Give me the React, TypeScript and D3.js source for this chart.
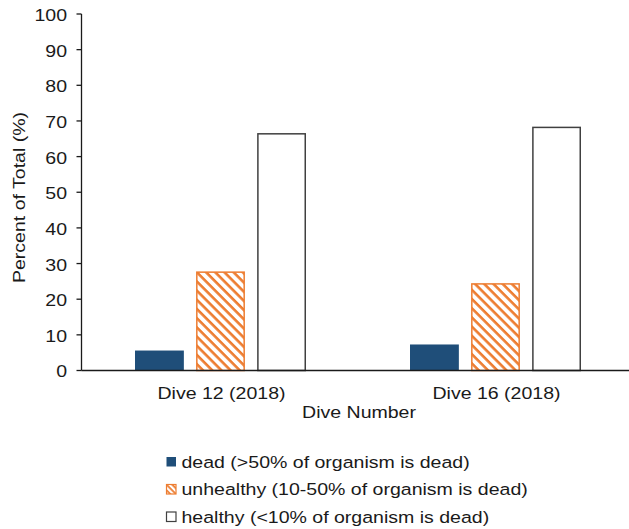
import React from "react";
import * as d3 from "d3";

const categories = ["Dive 12 (2018)", "Dive 16 (2018)"];
const seriesNames = [
  "dead (>50% of organism is dead)",
  "unhealthy (10-50% of organism is dead)",
  "healthy (<10% of organism is dead)",
];
const deadValues = [5.6, 7.3];
const unhealthyValues = [27.8, 24.5];
const healthyValues = [66.6, 68.4];
const yTicks = [0, 10, 20, 30, 40, 50, 60, 70, 80, 90, 100];

const W = 629;
const H = 529;
const FONT = "'Liberation Sans', Arial, sans-serif";
const TEXT = "#1a1a1a";
const FS = 17;
const SX = 1.15;

function T({ x, y, anchor = "start", rotate = 0, children, dy = "0.35em" }: any) {
  return (
    <g transform={`translate(${x},${y}) rotate(${rotate}) scale(${SX},1)`}>
      <text x={0} y={0} dy={dy} textAnchor={anchor} fontFamily={FONT} fontSize={FS} fill={TEXT}>
        {children}
      </text>
    </g>
  );
}

export default function App() {
  const left = 81.5;
  const y = d3.scaleLinear().domain([0, 100]).range([370.5, 14]);
  const x0 = d3.scaleBand().domain(categories).range([83, 633]).paddingInner(0).paddingOuter(0);
  const x1 = d3.scaleBand().domain(["dead", "unhealthy", "healthy"]).range([0, 171]).paddingInner(0.2).paddingOuter(0);
  const series = [
    { key: "dead", values: deadValues, fill: "#1F4E79", stroke: "none" },
    { key: "unhealthy", values: unhealthyValues, fill: "url(#hatch)", stroke: "#ED7D31" },
    { key: "healthy", values: healthyValues, fill: "#ffffff", stroke: "#404040" },
  ];
  const legendFills = ["#1F4E79", "url(#hatchSmall)", "#ffffff"];
  const legendStrokes = ["none", "#ED7D31", "#404040"];

  return (
    <svg width={W} height={H} style={{ position: "absolute", left: 0, top: 0, background: "#fff" }}>
      <defs>
        <pattern id="hatch" patternUnits="userSpaceOnUse" width="6.5" height="6.5" patternTransform="rotate(45)">
          <rect width="6.5" height="6.5" fill="#fff" />
          <rect x="0" y="0" width="6.5" height="2.6" fill="#ED7D31" />
        </pattern>
        <pattern id="hatchSmall" patternUnits="userSpaceOnUse" width="4" height="4" patternTransform="rotate(45)">
          <rect width="4" height="4" fill="#fff" />
          <rect x="0" y="0" width="4" height="1.8" fill="#ED7D31" />
        </pattern>
      </defs>
      {categories.map((c, ci) => {
        const gx = (x0(c) as number) + x0.bandwidth() / 2 - 171 / 2;
        return series.map((s) => {
          const v = s.values[ci];
          const bx = gx + (x1(s.key) as number);
          const inset = s.stroke === "none" ? 0 : 0.75;
          return (
            <rect
              key={c + s.key}
              x={bx + inset}
              y={y(v) + inset}
              width={x1.bandwidth() - inset * 2}
              height={y(0) - y(v) - inset}
              fill={s.fill}
              stroke={s.stroke}
              strokeWidth={1.5}
            />
          );
        });
      })}
      <line x1={left} x2={left} y1={y(100)} y2={y(0)} stroke="#1a1a1a" strokeWidth={1.3} />
      {yTicks.map((t) => (
        <g key={t}>
          <line x1={left - 5} x2={left} y1={y(t)} y2={y(t)} stroke="#1a1a1a" strokeWidth={1.3} />
          <T x={67} y={y(t) + 1} anchor="end">{t}</T>
        </g>
      ))}
      <line x1={left} x2={W} y1={y(0)} y2={y(0)} stroke="#1a1a1a" strokeWidth={1.3} />
      {categories.map((c) => (
        <T key={c} x={(x0(c) as number) + x0.bandwidth() / 2 + 1} y={393} anchor="middle">
          {c}
        </T>
      ))}
      <T x={359} y={412} anchor="middle">Dive Number</T>
      <g transform={`translate(25,197.5) rotate(-90) scale(${SX},1)`}>
        <text x={0} y={0} textAnchor="middle" fontFamily={FONT} fontSize={FS} fill={TEXT}>
          Percent of Total (%)
        </text>
      </g>
      {seriesNames.map((n, i) => {
        const cy = 462 + i * 27.5;
        return (
          <g key={n}>
            <rect
              x={166.5}
              y={cy - 5}
              width={9.5}
              height={9.5}
              fill={legendFills[i]}
              stroke={legendStrokes[i]}
              strokeWidth={1.2}
            />
            <T x={181.5} y={cy}>{n}</T>
          </g>
        );
      })}
    </svg>
  );
}
